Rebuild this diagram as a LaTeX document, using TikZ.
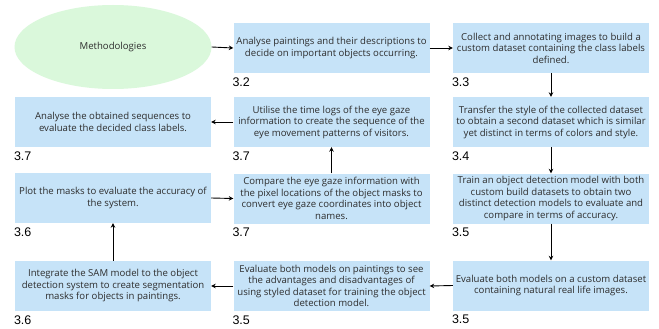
\documentclass[tikz,border=0pt]{standalone}
\usepackage{fontspec}
\setmainfont{Open Sans}
\newfontfamily\labelfont{Liberation Sans}
\usetikzlibrary{arrows.meta,shapes.geometric}
\definecolor{boxblue}{RGB}{198,227,248}
\definecolor{ellgreen}{RGB}{218,248,219}
\definecolor{txtgrey}{RGB}{45,45,45}
\tikzset{
  stepbox/.style={rectangle, fill=boxblue, minimum width=196pt, minimum height=50pt,
    inner sep=2pt, align=center, text=txtgrey, font=\fontsize{9.6}{11.5}\selectfont},
  numlabel/.style={anchor=north west, inner sep=0pt, font=\labelfont\fontsize{12.5}{13}\selectfont, text=black},
  conn/.style={-{Stealth[length=4.5pt,width=4.5pt]}, line width=0.9pt, black}
}
\begin{document}
\begin{tikzpicture}[x=1pt,y=-1pt]
\useasboundingbox (0,0) rectangle (659,329);
\fill[white] (0,0) rectangle (659,329);

\node[ellipse, fill=ellgreen, minimum width=197pt, minimum height=84pt, text=txtgrey,
  font=\fontsize{9.6}{11}\selectfont] (meth) at (113,47) {Methodologies};

\node[stepbox] (b32) at (331.5,48) {Analyse paintings and their descriptions to\\decide on important objects occurring.};
\node[stepbox] (b33) at (551,48) {Collect and annotating images to build a\\custom dataset containing the class labels\\defined.};
\node[stepbox] (b37a) at (113,122) {Analyse the obtained sequences to\\evaluate the decided class labels.};
\node[stepbox] (b37b) at (331.5,122) {Utilise the time logs of the eye gaze\\information to create the sequence of the\\eye movement patterns of visitors.};
\node[stepbox] (b34) at (551,122) {Transfer the style of the collected dataset\\to obtain a second dataset which is similar\\yet distinct in terms of colors and style.};
\node[stepbox] (b36a) at (113,198) {Plot the masks to evaluate the accuracy of\\the system.};
\node[stepbox] (b37c) at (331.5,198.5) {Compare the eye gaze information with\\the pixel locations of the object masks to\\convert eye gaze coordinates into object\\names.};
\node[stepbox] (b35a) at (551,198.5) {Train an object detection model with both\\custom build datasets to obtain two\\distinct detection models to evaluate and\\compare in terms of accuracy.};
\node[stepbox] (b36b) at (113,286) {Integrate the SAM model to the object\\detection system to create segmentation\\masks for objects in paintings.};
\node[stepbox] (b35b) at (331.5,286) {Evaluate both models on paintings to see\\the advantages and disadvantages of\\using styled dataset for training the object\\detection model.};
\node[stepbox] (b35c) at (551,285.5) {Evaluate both models on a custom dataset\\containing natural real life images.};

\node[numlabel] (l32) at ([xshift=-1pt,yshift=-4pt]b32.south west) {3.2};
\node[numlabel] (l33) at ([xshift=-1pt,yshift=-4pt]b33.south west) {3.3};
\node[numlabel] (l37a) at ([xshift=-1pt,yshift=-4pt]b37a.south west) {3.7};
\node[numlabel] (l37b) at ([xshift=-1pt,yshift=-4pt]b37b.south west) {3.7};
\node[numlabel] (l34) at ([xshift=-1pt,yshift=-4pt]b34.south west) {3.4};
\node[numlabel] (l36a) at ([xshift=-1pt,yshift=-4pt]b36a.south west) {3.6};
\node[numlabel] (l37c) at ([xshift=-1pt,yshift=-4pt]b37c.south west) {3.7};
\node[numlabel] (l35a) at ([xshift=-1pt,yshift=-4pt]b35a.south west) {3.5};
\node[numlabel] (l36b) at ([xshift=-1pt,yshift=-4pt]b36b.south west) {3.6};
\node[numlabel] (l35b) at ([xshift=-1pt,yshift=-4pt]b35b.south west) {3.5};
\node[numlabel] (l35c) at ([xshift=-1pt,yshift=-4pt]b35c.south west) {3.5};

\draw[conn] (meth.east) -- (b32.west);
\draw[conn] (b32.east) -- (b33.west);
\draw[conn] (b33.south) -- (b34.north);
\draw[conn] (b34.south) -- (b35a.north);
\draw[conn] (b35a.south) -- (b35c.north);
\draw[conn] (b35c.west) -- (b35b.east);
\draw[conn] (b35b.west) -- (b36b.east);
\draw[conn] (b36b.north) -- (b36a.south);
\draw[conn] (b36a.east) -- (b37c.west);
\draw[conn] (b37c.north) -- (b37b.south);
\draw[conn] (b37b.west) -- (b37a.east);
\end{tikzpicture}
\end{document}
